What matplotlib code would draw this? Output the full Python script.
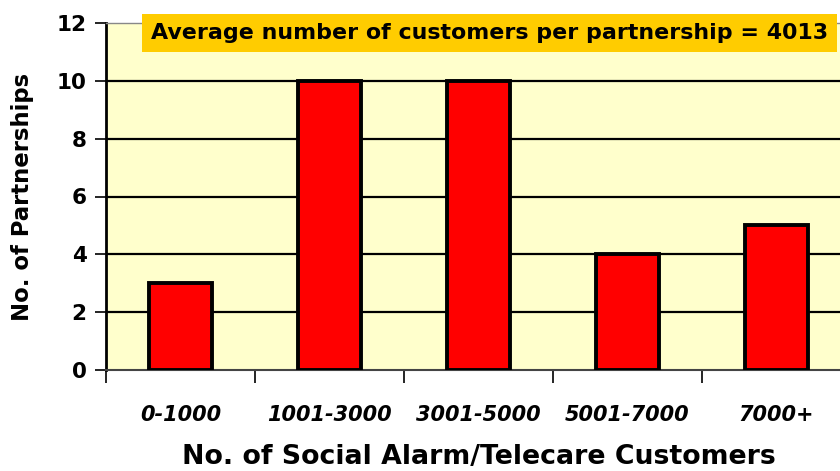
import matplotlib.pyplot as plt
import numpy as np

plt.rcParams['font.family'] = ['DejaVu Sans']

# data
categories = ['0-1000', '1001-3000', '3001-5000', '5001-7000', '7000+']
partnerships = [3, 10, 10, 4, 5]
y_ticks = [0, 2, 4, 6, 8, 10, 12]
note = 'Average number of customers per partnership = 4013'

fig = plt.figure(figsize=(8.4, 4.71), dpi=100)
ax = fig.add_axes([106/840, 1-370/471, 745/840, 347/471])
ax.set_facecolor('#FFFFCC')

x = np.arange(len(categories))
ax.set_xlim(-0.5, len(categories)-0.5)
ax.set_ylim(0, 12)

# gridlines
for t in y_ticks[1:-1]:
    ax.axhline(t, color='black', lw=1.6, zorder=1)

ax.bar(x, partnerships, width=0.42, color='#FF0000', edgecolor='black',
       linewidth=2.8, zorder=3)

ax.set_yticks(y_ticks)
ax.set_yticklabels([str(t) for t in y_ticks], fontsize=15.5, fontweight='bold')
ax.tick_params(axis='y', direction='out', length=8, width=1.2, pad=6)

# category labels between tick marks
ax.set_xticks(np.arange(len(categories)+1) - 0.5)
ax.set_xticklabels([])
ax.set_xticks(x, minor=True)
ax.set_xticklabels(categories, minor=True, fontsize=15, fontweight='bold',
                   style='italic')
ax.tick_params(axis='x', which='major', direction='out', length=9, width=1.2)
ax.tick_params(axis='x', which='minor', length=0, pad=25)

ax.spines['left'].set_linewidth(2)
ax.spines['bottom'].set_linewidth(1.5)
ax.spines['bottom'].set_color('#444444')
ax.spines['top'].set_color('#888888')
ax.spines['top'].set_linewidth(1)
ax.spines['right'].set_visible(False)

ax.set_ylabel('No. of Partnerships', fontsize=16.4, fontweight='bold', labelpad=16)
ax.set_xlabel('No. of Social Alarm/Telecare Customers', fontsize=19.3,
              fontweight='bold', labelpad=14)

fig.text(151/840, 1-33/471, note, fontsize=15.9, fontweight='bold',
         va='center', ha='left',
         bbox=dict(boxstyle='square,pad=0.42', fc='#FFCC00', ec='none'))

fig.savefig('out.png', dpi=100)
